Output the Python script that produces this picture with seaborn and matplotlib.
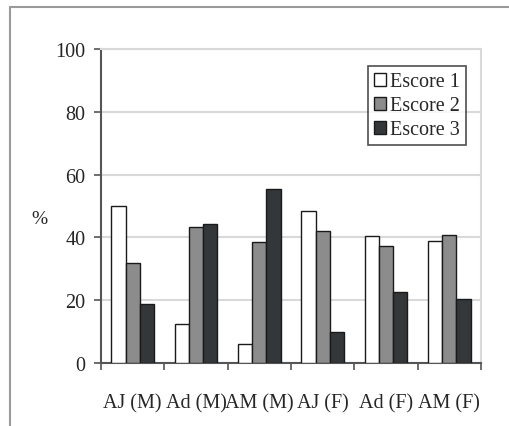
import matplotlib
matplotlib.use("Agg")
import matplotlib.pyplot as plt
import seaborn as sns
import pandas as pd
import numpy as np
from matplotlib.lines import Line2D

categories = ["AJ (M)", "Ad (M)", "AM (M)", "AJ (F)", "Ad (F)", "AM (F)"]
series = ["Escore 1", "Escore 2", "Escore 3"]
escore1 = [50.0, 12.4, 6.0, 48.5, 40.3, 38.7]
escore2 = [31.8, 43.4, 38.5, 41.9, 37.3, 40.9]
escore3 = [18.8, 44.3, 55.4, 9.8, 22.5, 20.5]
yticks = [0, 20, 40, 60, 80, 100]

df = pd.DataFrame({
    "cat": categories * 3,
    "serie": [series[0]] * 6 + [series[1]] * 6 + [series[2]] * 6,
    "val": escore1 + escore2 + escore3,
})

sns.set_theme(style="white")
plt.rcParams["font.family"] = ["Liberation Serif", "DejaVu Serif"]

fig = plt.figure(figsize=(5.1, 4.27), dpi=100)
ax = fig.add_axes([101/510, 1-364/427, 380/510, 314/427])

palette = {series[0]: "#ffffff", series[1]: "#8c8c8c", series[2]: "#33373a"}
sns.barplot(data=df, x="cat", y="val", hue="serie", order=categories,
            hue_order=series, palette=palette, width=0.67, ax=ax,
            edgecolor="#1a1a1a", linewidth=1.0, saturation=1, zorder=3)

ax.set_ylim(0, 100)
ax.set_xlim(-0.5, 5.5)
ax.set_yticks(yticks)
ax.set_yticklabels([str(t) for t in yticks], fontsize=14.5)
ax.yaxis.grid(True, color="#d9d9d9", linewidth=1.5, zorder=0)
ax.set_axisbelow(True)
ax.set_xlabel("")
ax.set_ylabel("%", rotation=0, fontsize=14, va="center", ha="center")
ax.yaxis.set_label_coords(-0.163, 0.46)

ax.set_xticks(range(6))
ax.set_xticklabels(categories, fontsize=14.5)
ax.tick_params(axis="x", which="major", length=0, pad=22)
ax.set_xticks(np.arange(-0.5, 6.0, 1.0), minor=True)
ax.tick_params(axis="x", which="minor", length=5, width=1.2, color="#555555", direction="out", bottom=True)
ax.tick_params(axis="y", which="major", length=5, width=1.2, color="#555555", direction="out", left=True, pad=6)

for s in ["left", "bottom"]:
    ax.spines[s].set_color("#555555")
    ax.spines[s].set_linewidth(1.5)
for s in ["top", "right"]:
    ax.spines[s].set_color("#d9d9d9")
    ax.spines[s].set_linewidth(1.5)

leg = ax.legend(loc="upper right", bbox_to_anchor=(0.96, 0.945), fontsize=14.5,
                frameon=True, fancybox=False, edgecolor="#222222",
                handlelength=0.6, handleheight=0.6, handletextpad=0.2,
                labelspacing=0.25, borderpad=0.3, borderaxespad=0)
leg.get_frame().set_linewidth(1.2)
leg.set_title(None)

# outer frame (partial, like the cropped figure border)
fig.add_artist(Line2D([10/510, 10/510], [0, 1-8/427], transform=fig.transFigure, color="#9a9a9a", lw=1.5))
fig.add_artist(Line2D([10/510, 1], [1-8/427, 1-8/427], transform=fig.transFigure, color="#9a9a9a", lw=1.5))

fig.savefig("out.png", dpi=100)
